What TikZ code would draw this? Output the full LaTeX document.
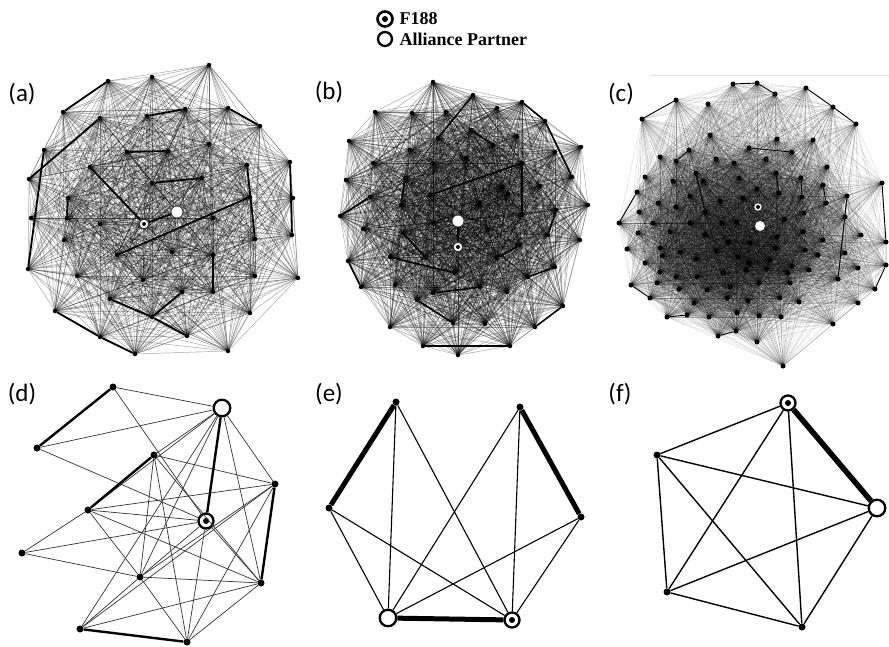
\documentclass[tikz,border=0pt]{standalone}
\usepackage{fontspec}
\setmainfont{Liberation Serif}
\newfontfamily\panelfont{Carlito}
\usetikzlibrary{backgrounds}

\begin{document}
\begin{tikzpicture}[x=1pt, y=-1pt,
		dot/.style={circle, fill=black, inner sep=0pt, minimum size=4.5pt},
		bigdot/.style={circle, fill=black, inner sep=0pt, minimum size=7pt},
		firm/.style={circle, draw=black, fill=white, line width=2.3pt, inner sep=0pt, minimum size=15pt,
			path picture={\fill[black] (path picture bounding box.center) circle (3pt);}},
		ally/.style={circle, draw=black, fill=white, line width=2.3pt, inner sep=0pt, minimum size=16.5pt},
		firmsmall/.style={circle, draw=black!80, fill=white, line width=1.3pt, inner sep=0pt, minimum size=10pt,
			path picture={\fill[black] (path picture bounding box.center) circle (2pt);}},
		allysmall/.style={circle, draw=black!80, fill=white, line width=0.8pt, inner sep=0pt, minimum size=12pt},
		weba/.style={line width=0.5pt, black, opacity=0.34},
		webc/.style={line width=0.35pt, black, opacity=0.18},
		tiea/.style={line width=1.8pt, black},
		tiec/.style={line width=0.9pt, black},
		dthin/.style={line width=0.7pt, black!80},
		dthick/.style={line width=2.4pt, black},
		ethin/.style={line width=1.1pt, black},
		ethick/.style={line width=5pt, black},
		fthick/.style={line width=5.5pt, black},
		panel/.style={font=\panelfont\fontsize{25}{28}\selectfont},
		legend/.style={anchor=west, font=\fontsize{18}{18}\selectfont\bfseries}
	]
	
	\useasboundingbox (0,0) rectangle (889,646);
	
	% ==========================================
	% LEGEND
	% ==========================================
	\node[firm, line width=2.6pt] (keyfirm) at (385,19) {};
	\node[ally, minimum size=14pt] (keyally) at (385,39) {};
	\node[legend] (keyfirmtext) at (396,19) {F188};
	\node[legend] (keyallytext) at (396,39) {Alliance Partner};
	
	% ==========================================
	% PANEL LABELS
	% ==========================================
	\node[panel] (laba) at (22,94) {(a)};
	\node[panel] (labb) at (329,92) {(b)};
	\node[panel] (labc) at (621,94) {(c)};
	\node[panel] (labd) at (22,394) {(d)};
	\node[panel] (labe) at (329,394) {(e)};
	\node[panel] (labf) at (620,394) {(f)};
	
	% ==========================================
	% PANEL (a)
	% ==========================================
	\def\anodes{209/65, 152/77, 108/81, 63/112, 100/118, 147/116, 185/109, 228/108,
		260/126, 44/150, 127/152, 168/151, 209/144, 90/167, 247/165, 290/162,
		29/179, 152/183, 202/178, 68/198, 250/197, 293/198, 31/218, 177/212,
		144/224, 100/224, 213/218, 64/240, 255/239, 292/235, 117/255, 172/252,
		213/255, 28/269, 77/276, 143/280, 213/292, 255/276, 298/278, 110/299,
		182/292, 55/311, 152/317, 250/313, 100/337, 187/336, 135/354, 228/351, 67/218}
	
	\foreach \x/\y [count=\i] in \anodes
		\node[dot] (a\i) at (\x,\y) {};
	
	% web of weak ties, shorter ones only
	\begin{pgfonlayer}{background}
		\foreach \x/\y [count=\i] in \anodes {
			\foreach \u/\v [count=\j] in \anodes {
				\ifnum\j>\i
					\pgfmathsetmacro{\edgelen}{veclen(\u-\x,\v-\y)}
					\ifdim\edgelen pt<215pt \draw[weba] (a\i.center) -- (a\j.center); \fi
				\fi
			}
		}
	\end{pgfonlayer}
	
	\node[allysmall] (aP) at (a24) {};
	\node[firmsmall] (aF) at (a25) {};
	
	\foreach \s/\t in {4/3, 6/7, 8/9, 10/34, 17/5, 11/12, 18/19, 14/F, 20/49, 15/29,
		16/30, 31/21, 33/37, 40/43, 43/41, 43/46, 42/45, 45/47, F/P}
		\draw[tiea] (a\s) -- (a\t);
	
	% ==========================================
	% PANEL (b)
	% ==========================================
	\def\bnodes{433/82, 473/95, 522/102, 375/112, 412/113, 446/112, 497/108, 545/121,
		349/141, 410/150, 438/138, 471/130, 493/145, 517/136, 555/152, 581/147,
		373/163, 433/163, 466/158, 522/163, 346/180, 405/178, 430/195, 502/187,
		540/186, 572/177, 370/197, 401/205, 480/203, 508/194, 522/215, 556/210,
		588/205, 340/216, 458/221, 433/223, 488/230, 548/235, 580/240, 363/229,
		403/233, 458/247, 425/257, 390/257, 497/258, 520/245, 348/261, 455/273,
		528/277, 555/267, 361/287, 395/285, 433/293, 480/287, 507/292, 417/300,
		563/306, 453/323, 485/324, 390/327, 535/327, 423/346, 510/346, 458/355}
	
	\foreach \x/\y [count=\i] in \bnodes
		\node[dot] (b\i) at (\x,\y) {};
	
	\begin{pgfonlayer}{background}
		\foreach \x/\y [count=\i] in \bnodes {
			\foreach \u/\v [count=\j] in \bnodes {
				\ifnum\j>\i
					\pgfmathsetmacro{\edgelen}{veclen(\u-\x,\v-\y)}
					\ifdim\edgelen pt<205pt \draw[weba] (b\i.center) -- (b\j.center); \fi
				\fi
			}
		}
	\end{pgfonlayer}
	
	\node[allysmall] (bP) at (b35) {};
	\node[firmsmall] (bF) at (b42) {};
	
	\foreach \s/\t in {3/8, 8/26, 22/28, 23/20, 20/31, 41/43, 44/48, 45/46, 38/32, 47/51,
		53/54, 56/58, 62/63, 34/27, 12/13, 2/11, 57/61, 49/50, P/F}
		\draw[tiea, line width=1.6pt] (b\s) -- (b\t);
	
	% ==========================================
	% PANEL (c)
	% ==========================================
	\draw[black!12, line width=0.6pt] (652,75) -- (889,75);
	
	\def\cnodes{733/84, 757/83, 775/94, 806/88, 833/107, 856/124, 676/100, 708/104,
		642/119, 710/135, 689/150, 660/157, 676/161, 749/148, 777/139, 792/152,
		813/140, 766/159, 827/167, 716/159, 734/163, 696/173, 645/177, 673/181,
		703/181, 739/178, 776/173, 801/178, 823/185, 637/192, 690/196, 757/189,
		779/193, 802/197, 847/196, 882/183, 758/207, 760/226, 658/203, 676/207,
		705/212, 720/201, 743/198, 826/203, 804/213, 785/219, 845/217, 619/223,
		639/212, 653/223, 690/223, 722/223, 736/222, 777/237, 803/232, 861/235,
		886/242, 638/233, 670/232, 705/235, 728/242, 750/243, 627/249, 660/248,
		680/252, 716/251, 738/257, 776/248, 805/250, 823/240, 845/253, 818/255,
		645/263, 662/256, 696/259, 749/263, 770/260, 792/266, 886/265, 631/285,
		660/272, 676/277, 697/277, 723/273, 746/270, 767/269, 788/273, 809/270,
		838/279, 858/268, 875/289, 657/283, 679/289, 707/290, 730/287, 759/283,
		790/283, 650/298, 694/303, 727/298, 748/301, 780/298, 799/302, 858/303,
		667/317, 687/315, 709/317, 737/313, 759/316, 781/317, 833/324, 718/336,
		736/331, 757/342, 783/366}
	
	\foreach \x/\y [count=\i] in \cnodes
		\node[dot, minimum size=5pt] (c\i) at (\x,\y) {};
	
	\begin{pgfonlayer}{background}
		\foreach \x/\y [count=\i] in \cnodes {
			\foreach \u/\v [count=\j] in \cnodes {
				\ifnum\j>\i
					\pgfmathsetmacro{\edgelen}{veclen(\u-\x,\v-\y)}
					\ifdim\edgelen pt<165pt \draw[webc] (c\i.center) -- (c\j.center); \fi
				\fi
			}
		}
	\end{pgfonlayer}
	
	\node[allysmall, minimum size=11pt] (cP) at (c38) {};
	\node[firmsmall, minimum size=9pt] (cF) at (c37) {};
	
	\foreach \s/\t in {9/7, 1/2, 2/3, 4/5, 5/6, 14/16, 36/57, 91/79, 48/30, 80/98,
		105/106, 112/113, 11/13, 27/33, 28/34, 29/44, 35/89, 22/41}
		\draw[tiec] (c\s) -- (c\t);
	
	% ==========================================
	% PANEL (d)
	% ==========================================
	\node[bigdot] (d1) at (113,387) {};
	\node[bigdot] (d2) at (37,448) {};
	\node[bigdot] (d3) at (154,455) {};
	\node[bigdot] (d4) at (275,484) {};
	\node[bigdot] (d5) at (88,510) {};
	\node[bigdot] (d6) at (22,553) {};
	\node[bigdot] (d7) at (140,577) {};
	\node[bigdot] (d8) at (261,583) {};
	\node[bigdot] (d9) at (80,629) {};
	\node[bigdot] (d10) at (187,642) {};
	\node[ally] (dP) at (222,408) {};
	\node[firm] (dF) at (206,521) {};
	
	\foreach \s/\t in {1/P, 1/F, 2/P, 2/F, P/3, P/5, P/7, P/9, P/4, P/8,
		3/4, 3/7, 3/8, 3/10, 5/4, 5/F, 5/8, 5/6, 5/7, 6/F, 6/7,
		4/7, 4/9, 4/10, F/7, F/8, F/10, 7/8, 7/9, 7/10, 9/8, 10/8}
		\draw[dthin] (d\s) -- (d\t);
	\foreach \s/\t in {1/2, 3/5, P/F, 4/8, 9/10}
		\draw[dthick] (d\s) -- (d\t);
	
	% ==========================================
	% PANEL (e)
	% ==========================================
	\node[bigdot] (e1) at (396,402) {};
	\node[bigdot] (e2) at (520,407) {};
	\node[bigdot] (e3) at (329,508) {};
	\node[bigdot] (e4) at (581,517) {};
	\node[ally] (eP) at (388,618) {};
	\node[firm] (eF) at (512,620) {};
	
	\foreach \s in {1,...,4} {
		\draw[ethin] (e\s) -- (eP);
		\draw[ethin] (e\s) -- (eF);
	}
	\foreach \s/\t in {1/3, 2/4, P/F}
		\draw[ethick] (e\s) -- (e\t);
	
	% ==========================================
	% PANEL (f)
	% ==========================================
	\node[firm] (fF) at (788,403) {};
	\node[ally] (fP) at (877,508) {};
	\node[bigdot] (f1) at (657,455) {};
	\node[bigdot] (f2) at (667,592) {};
	\node[bigdot] (f3) at (802,627) {};
	
	\foreach \s/\t in {F/1, F/2, F/3, P/1, P/2, P/3, 1/2, 1/3, 2/3}
		\draw[ethin, line width=1.4pt] (f\s) -- (f\t);
	\draw[fthick] (fF) -- (fP);
	
\end{tikzpicture}
\end{document}
